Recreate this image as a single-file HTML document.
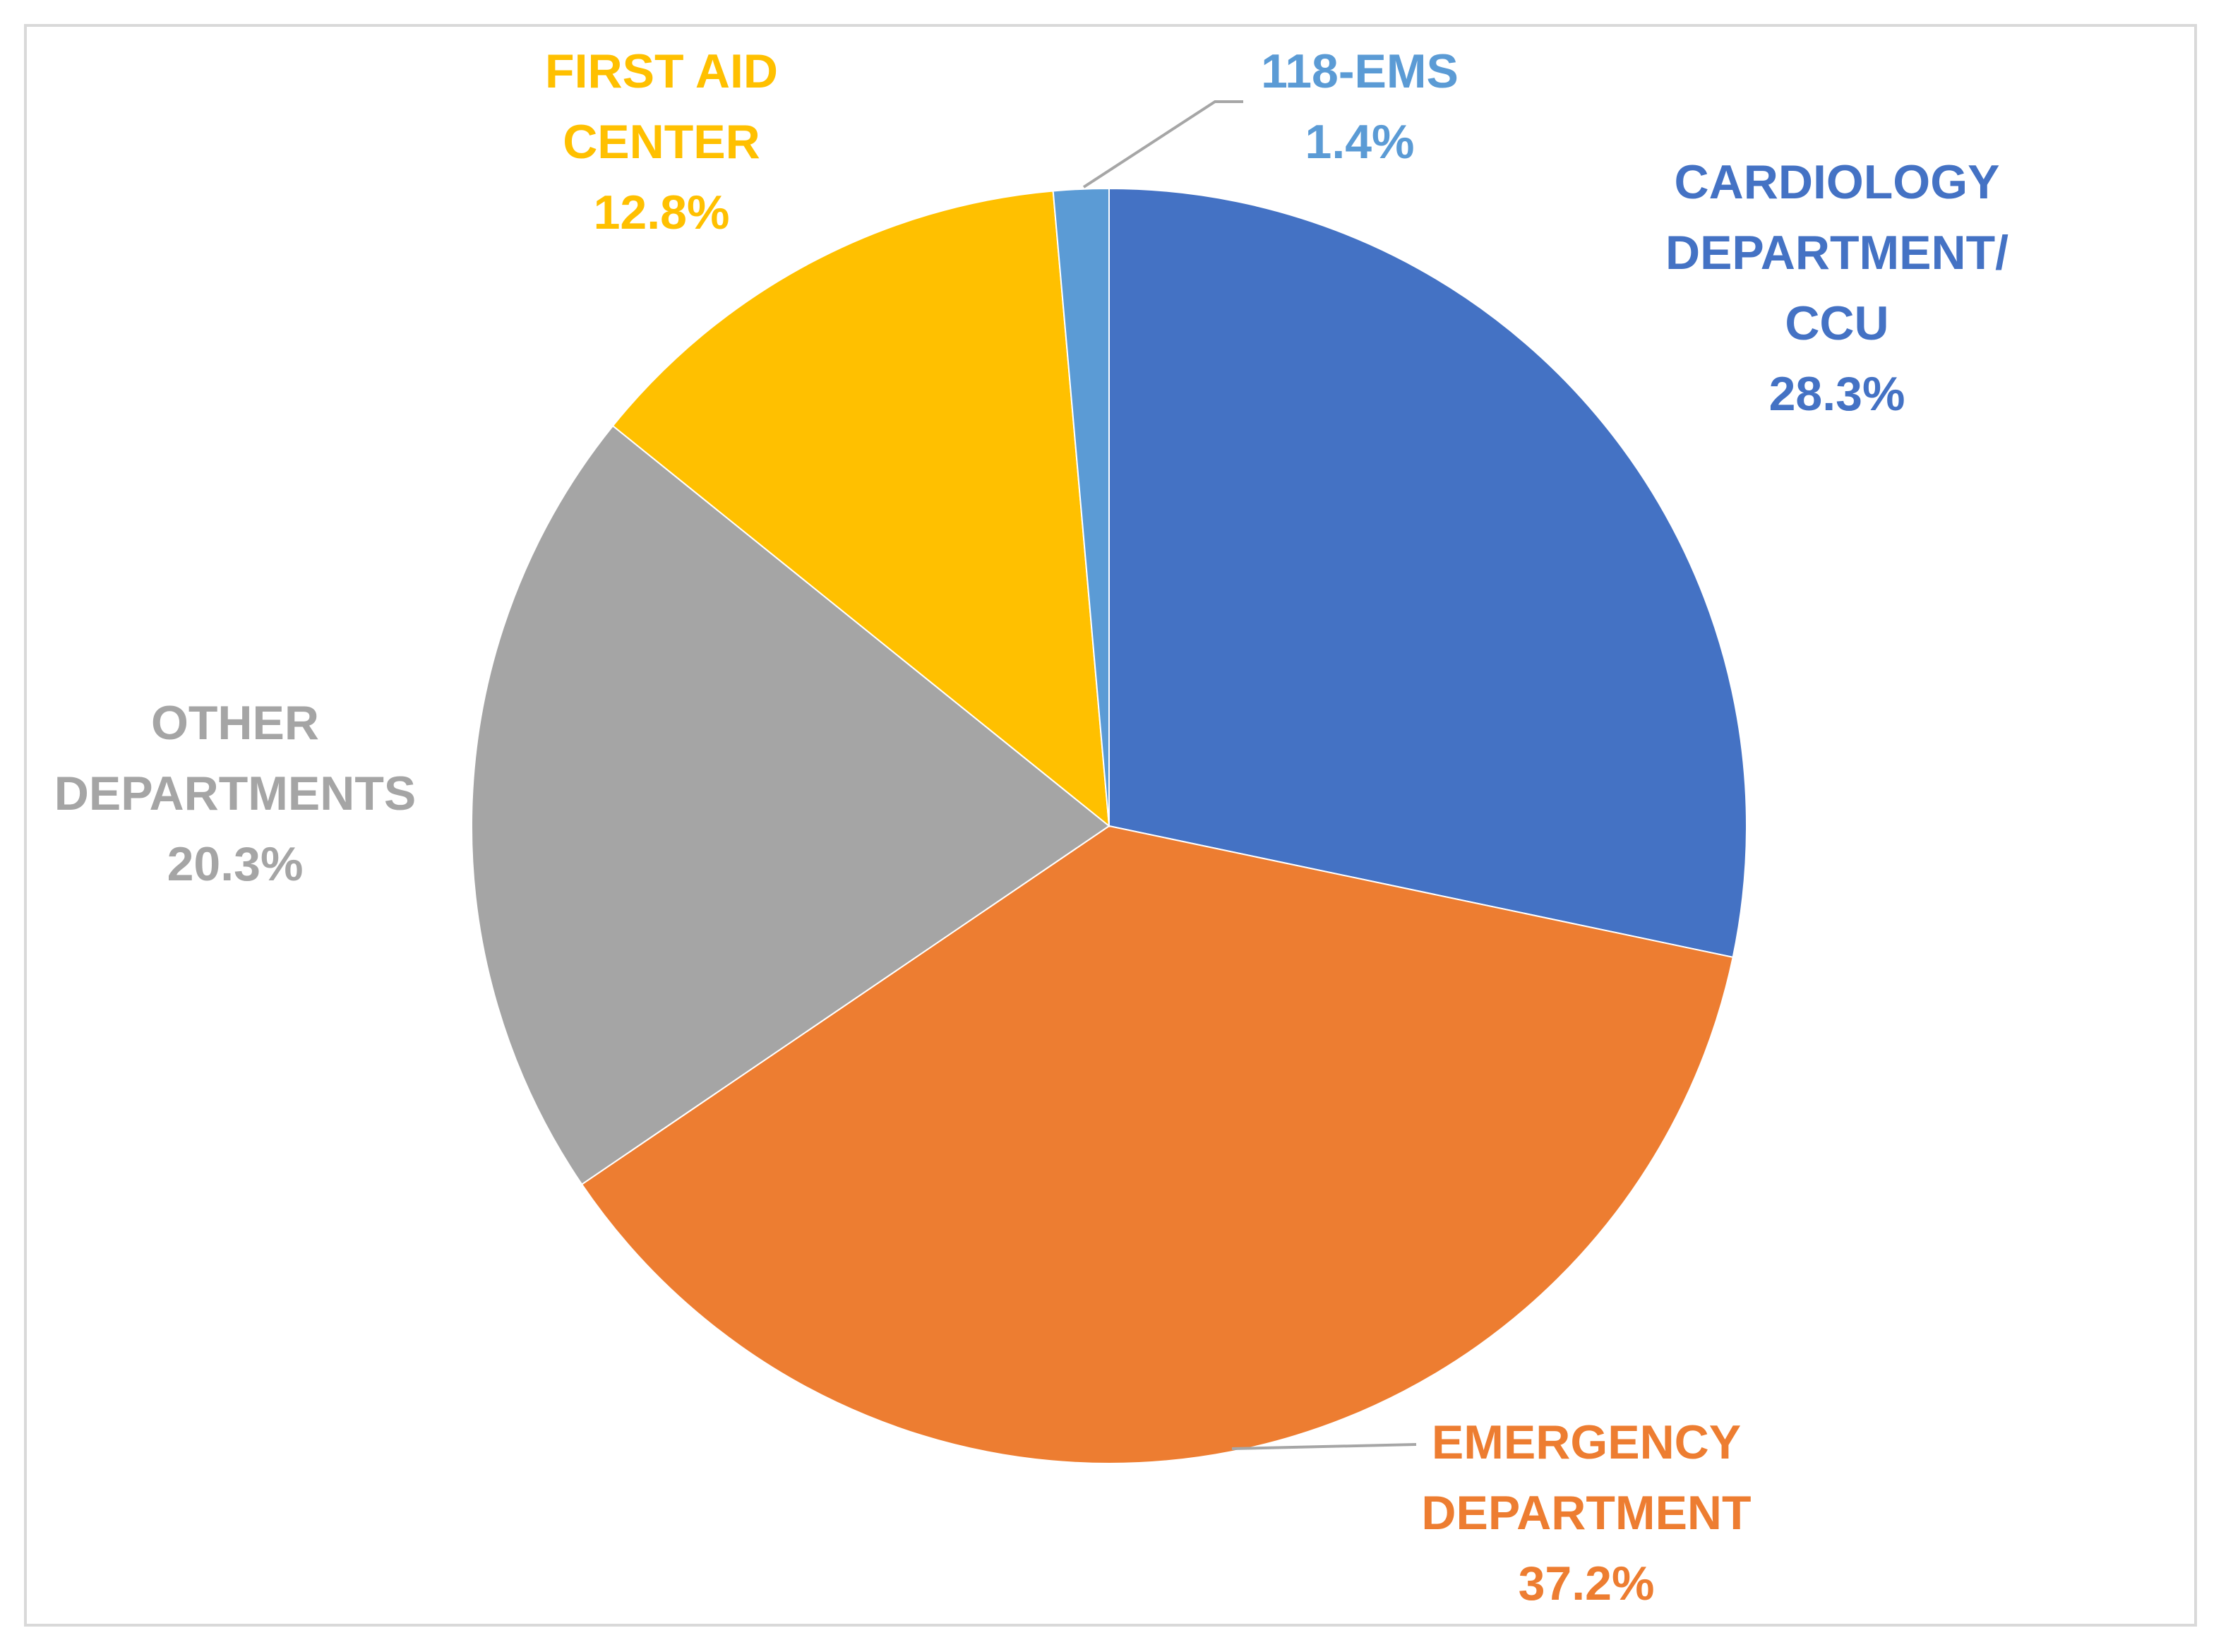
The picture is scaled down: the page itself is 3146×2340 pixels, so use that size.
<!DOCTYPE html>
<html><head><meta charset="utf-8"><style>
html,body{margin:0;padding:0;background:#fff;}
svg text{font-family:"Liberation Sans",sans-serif;font-weight:bold;font-size:68px;text-anchor:middle;}
</style></head><body>
<svg width="3146" height="2335" viewBox="0 0 3146 2335">
<rect x="36" y="36" width="3074" height="2266" fill="#fff" stroke="#d9d9d9" stroke-width="4"/>
<g id="slices"></g>
<g id="leaders"></g>
<g id="labels"></g>
</svg>
<script>
const categories = ["CARDIOLOGY DEPARTMENT/ CCU","EMERGENCY DEPARTMENT","OTHER DEPARTMENTS","FIRST AID CENTER","118-EMS"];
const values = [28.3, 37.2, 20.3, 12.8, 1.4];
const valueLabels = ["28.3%","37.2%","20.3%","12.8%","1.4%"];
const colors = ["#4472c4","#ed7d31","#a5a5a5","#ffc000","#5b9bd5"];
const cx=1571, cy=1170, r=903;
const NS="http://www.w3.org/2000/svg";
const total = values.reduce((a,b)=>a+b,0);
function pt(frac, rad){const a=frac*2*Math.PI-Math.PI/2;return [cx+rad*Math.cos(a), cy+rad*Math.sin(a)];}
let acc=0;
const sg=document.getElementById('slices');
values.forEach((v,i)=>{
  const f0=acc/total, f1=(acc+v)/total; acc+=v;
  const [x0,y0]=pt(f0,r),[x1,y1]=pt(f1,r);
  const large=(f1-f0)>0.5?1:0;
  const p=document.createElementNS(NS,'path');
  p.setAttribute('d',`M${cx},${cy} L${x0},${y0} A${r},${r} 0 ${large} 1 ${x1},${y1} Z`);
  p.setAttribute('fill',colors[i]);
  p.setAttribute('stroke','#fff');p.setAttribute('stroke-width','2');
  
  
  sg.appendChild(p);
});
const labelLines=[["CARDIOLOGY","DEPARTMENT/","CCU"],["EMERGENCY","DEPARTMENT"],["OTHER","DEPARTMENTS"],["FIRST AID","CENTER"],["118-EMS"]];
const labelPos=[[2602,257],[2247,2042],[333,1023],[937,100],[1926,100]];
const lg=document.getElementById('labels');
labelLines.forEach((lines,i)=>{
  const t=document.createElementNS(NS,'text');
  t.setAttribute('x',labelPos[i][0]);t.setAttribute('y',labelPos[i][1]+24);
  t.setAttribute('fill',colors[i]);
  
  
  lines.concat([valueLabels[i]]).forEach((s,j)=>{
    const ts=document.createElementNS(NS,'tspan');
    ts.setAttribute('x',labelPos[i][0]);ts.setAttribute('dy',j?100:0);
    ts.textContent=s;t.appendChild(ts);
  });
  lg.appendChild(t);
});
const ld=document.getElementById('leaders');
[["M1535,265 L1721,144 L1761,144"],["M1745,2052 L2006,2046"]].forEach((d,i)=>{
  const p=document.createElementNS(NS,'path');
  p.setAttribute('d',d[0]);p.setAttribute('fill','none');p.setAttribute('stroke','#a6a6a6');p.setAttribute('stroke-width','4');
  
  
  ld.appendChild(p);
});
</script>
</body></html>
